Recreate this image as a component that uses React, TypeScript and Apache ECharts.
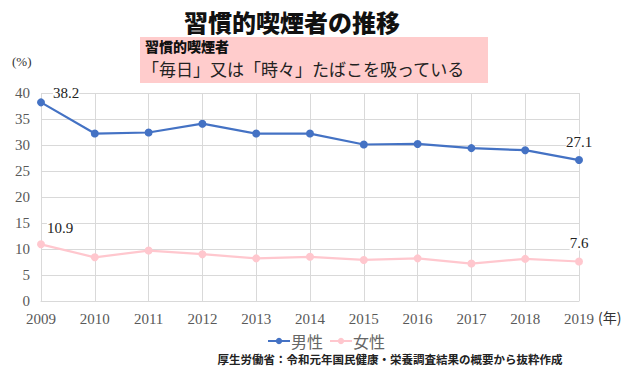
import React, { useEffect, useRef } from "react";
import * as echarts from "echarts";

const years = ["2009", "2010", "2011", "2012", "2013", "2014", "2015", "2016", "2017", "2018", "2019"];
const male = [38.2, 32.2, 32.4, 34.1, 32.2, 32.2, 30.1, 30.2, 29.4, 29.0, 27.1];
const female = [10.9, 8.4, 9.7, 9.0, 8.2, 8.5, 7.9, 8.2, 7.2, 8.1, 7.6];
const yTicks = { min: 0, max: 40, interval: 5 };

const SERIF = "'Times New Roman', 'DejaVu Serif', serif";
const JP = "Noto Sans CJK JP";

export default function App() {
  const ref = useRef<HTMLDivElement>(null);
  useEffect(() => {
    const chart = echarts.init(ref.current!, null, { renderer: "svg" });
    const last = years.length - 1;
    const endLabel = (arr: number[], firstOffset: number[]) =>
      arr.map((v, i) =>
        i === 0 || i === last
          ? {
              value: v,
              label: {
                show: true,
                position: "top",
                offset: i === 0 ? firstOffset : [0, -2],
                formatter: (p: any) => p.value.toFixed(1),
                fontFamily: SERIF,
                fontSize: 15,
                color: "#222",
                backgroundColor: "#fff",
              },
            }
          : v
      );
    chart.setOption({
      animation: false,
      backgroundColor: "#fff",
      grid: { left: 41, right: 61, top: 93, bottom: 73 },
      title: {
        text: "習慣的喫煙者の推移",
        left: 287,
        top: 4,
        textAlign: "center",
        textStyle: { fontFamily: JP, fontWeight: 900, fontSize: 24, color: "#111" },
      },
      graphic: [
        { type: "rect", shape: { x: 140, y: 37, width: 348, height: 46 }, style: { fill: "#ffcccc" }, z: 1 },
        {
          type: "text",
          x: 145,
          y: 39,
          style: { text: "習慣的喫煙者", font: `900 14px ${JP}`, fill: "#111", verticalAlign: "top" },
          z: 2,
        },
        {
          type: "text",
          x: 142,
          y: 60,
          style: {
            text: "「毎日」又は「時々」たばこを吸っている",
            font: `400 17px ${JP}`,
            fill: "#222",
            verticalAlign: "top",
          },
          z: 2,
        },
        { type: "text", x: 12, y: 55, style: { text: "(%)", font: `13px ${SERIF}`, fill: "#333" } },
        { type: "text", x: 598, y: 310, style: { text: "(年)", font: `14px ${JP}`, fill: "#333" } },
        {
          type: "text",
          x: 390,
          y: 353,
          style: {
            text: "厚生労働省：令和元年国民健康・栄養調査結果の概要から抜粋作成",
            font: `700 11.5px ${JP}`,
            fill: "#222",
            align: "center",
          },
        },
      ],
      legend: {
        data: ["男性", "女性"],
        left: 262,
        top: 328,
        itemWidth: 22,
        itemHeight: 8,
        itemGap: 6,
        textStyle: { fontFamily: JP, fontSize: 16, color: "#666", padding: [0, 0, 0, -4] },
      },
      xAxis: {
        type: "category",
        data: years,
        boundaryGap: false,
        axisLine: { show: true, lineStyle: { color: "#d9d9d9" } },
        axisTick: { show: false },
        axisLabel: { fontFamily: SERIF, fontSize: 15, color: "#595959", margin: 10 },
        splitLine: { show: true, lineStyle: { color: "#d9d9d9" } },
      },
      yAxis: {
        type: "value",
        min: yTicks.min,
        max: yTicks.max,
        interval: yTicks.interval,
        axisLine: { show: false },
        axisTick: { show: false },
        axisLabel: { fontFamily: SERIF, fontSize: 15, color: "#595959", margin: 11 },
        splitLine: { show: true, lineStyle: { color: "#d9d9d9" } },
      },
      series: [
        {
          name: "男性",
          type: "line",
          data: endLabel(male, [25, 7]),
          symbol: "circle",
          symbolSize: 8,
          itemStyle: { color: "#4472c4" },
          lineStyle: { color: "#4472c4", width: 2.2 },
          z: 3,
        },
        {
          name: "女性",
          type: "line",
          data: endLabel(female, [19, 0]),
          symbol: "circle",
          symbolSize: 8,
          itemStyle: { color: "#ffc7ce" },
          lineStyle: { color: "#ffc7ce", width: 2.2 },
          z: 3,
        },
      ],
    });
    return () => chart.dispose();
  }, []);
  return <div ref={ref} style={{ width: 640, height: 374, position: "absolute", left: 0, top: 0 }} />;
}
